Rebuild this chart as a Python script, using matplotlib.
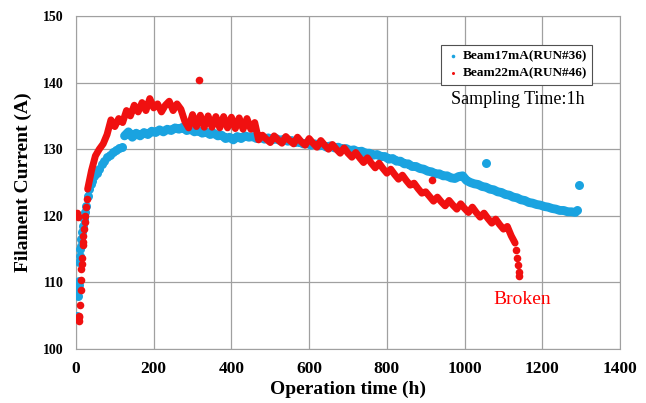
import numpy as np
import matplotlib
matplotlib.use('Agg')
import matplotlib.pyplot as plt

plt.rcParams['font.family'] = ['Liberation Serif', 'DejaVu Serif']

# Beam17mA (RUN#36) - blue series
blue_early_h = [3, 5, 6, 7, 8, 9, 10, 11, 12, 14, 16, 18, 20, 23, 26, 30, 34, 38, 42, 47,
                53, 60, 66, 72, 80, 88, 96, 104, 112, 118]
blue_early_i = [105.0, 108.0, 109.0, 110.2, 109.6, 113.0, 114.0, 115.0, 115.5, 116.5,
                117.5, 118.5, 119.5, 120.5, 121.5, 123.0, 124.0, 124.8, 125.3, 126.0,
                126.5, 127.0, 127.8, 128.2, 128.8, 129.2, 129.6, 129.9, 130.2, 130.4]
blue_start, blue_step = 125, 10
blue_main_i = [132.0, 132.6, 131.8, 132.4, 132.0, 132.5, 132.2, 132.7, 132.5, 132.9,
               132.6, 133.0, 132.8, 133.2, 133.0, 133.3, 132.8, 133.0, 132.6, 132.8,
               132.4, 132.6, 132.2, 132.4, 132.0, 132.1, 131.6, 131.8, 131.4, 131.9,
               131.6, 132.0, 131.8, 131.9, 131.6, 131.8, 131.5, 131.7, 131.4, 131.6,
               131.3, 131.5, 131.2, 131.3, 131.0, 131.1, 130.8, 130.9, 130.6, 130.8,
               130.5, 130.6, 130.3, 130.5, 130.2, 130.3, 130.0, 130.1, 129.8, 129.9,
               129.6, 129.7, 129.4, 129.4, 129.1, 129.2, 128.9, 128.9, 128.5, 128.6,
               128.2, 128.2, 127.8, 127.8, 127.4, 127.4, 127.1, 127.0, 126.7, 126.6,
               126.3, 126.3, 126.0, 126.0, 125.7, 125.6, 125.9, 126.0, 125.3, 125.0,
               124.8, 124.7, 124.4, 124.3, 124.0, 123.9, 123.6, 123.5, 123.2, 123.1,
               122.8, 122.7, 122.4, 122.3, 122.0, 121.9, 121.7, 121.6, 121.4, 121.3,
               121.1, 121.0, 120.8, 120.8, 120.6, 120.6, 120.5]
blue_extra_h = [1290, 1055, 1294]
blue_extra_i = [120.9, 127.9, 124.6]

# Beam22mA (RUN#46) - red series
red_early_h = [3, 4, 5, 6, 7, 8, 9, 10, 12, 13, 14, 15, 16, 17, 18, 19, 20, 22, 24, 26, 28]
red_early_i = [120.4, 119.8, 120.0, 104.5, 104.2, 104.8, 105.0, 106.6, 108.9, 110.4,
               112.0, 112.8, 113.6, 115.6, 116.0, 117.0, 118.0, 119.0, 120.0, 121.3, 122.5]
red_start, red_step = 30, 10
red_main_i = [124.0, 126.8, 129.0, 130.0, 130.8, 132.2, 134.4, 133.4, 134.6, 134.0,
              135.8, 135.0, 136.6, 135.6, 137.0, 135.8, 137.6, 136.2, 136.8, 135.6,
              136.6, 137.2, 135.8, 136.8, 136.0, 134.2, 133.2, 135.2, 133.4, 135.1,
              133.3, 135.0, 133.3, 134.9, 133.2, 134.9, 133.2, 134.8, 133.1, 134.7,
              133.0, 134.6, 133.0, 134.0, 131.4, 132.1, 131.5, 131.0, 132.0, 131.4,
              130.9, 131.9, 131.3, 130.8, 131.8, 131.1, 130.6, 131.6, 130.9, 130.3,
              131.3, 130.6, 130.0, 130.7, 130.0, 129.4, 130.2, 129.4, 128.8, 129.5,
              128.7, 128.0, 128.7, 127.9, 127.2, 127.9, 127.1, 126.4, 127.0, 126.2,
              125.5, 126.1, 125.3, 124.6, 124.9, 124.1, 123.4, 123.6, 122.9, 122.2,
              122.8, 122.1, 121.5, 122.3, 121.6, 121.0, 121.8, 121.1, 120.5, 121.3,
              120.5, 119.8, 120.4, 119.6, 118.9, 119.5, 118.7, 118.0, 118.4, 117.0,
              115.9]
red_extra_h = [1133, 1135, 1137, 1139, 1141, 316, 916]
red_extra_i = [114.9, 113.7, 112.6, 111.6, 111.0, 140.4, 125.4]

blue_main_h = blue_start + blue_step * np.arange(len(blue_main_i))
red_main_h = red_start + red_step * np.arange(len(red_main_i))

fig = plt.figure(figsize=(6.46, 4.03), dpi=100)
ax = fig.add_axes([0.1176, 0.134, 0.8422, 0.8263])

blue_c = '#1AA3E0'
red_c = '#F01010'

# dense hourly samples -> draw main runs as thick bands of dots
ax.plot(blue_main_h, blue_main_i, color=blue_c, lw=6.4, solid_joinstyle='round',
        solid_capstyle='round', zorder=3)
ax.scatter(blue_early_h + blue_extra_h, blue_early_i + blue_extra_i, s=42, color=blue_c,
           label='Beam17mA(RUN#36)', zorder=3, linewidths=0)
ax.plot(red_main_h, red_main_i, color=red_c, lw=5.0, solid_joinstyle='round',
        solid_capstyle='round', zorder=4)
ax.scatter(red_early_h + red_extra_h, red_early_i + red_extra_i, s=30, color=red_c,
           label='Beam22mA(RUN#46)', zorder=4, linewidths=0)

ax.set_xlim(0, 1400)
ax.set_ylim(100, 150)
ax.set_xticks([0, 200, 400, 600, 800, 1000, 1200, 1400])
ax.set_yticks([100, 110, 120, 130, 140, 150])
ax.grid(True, color='#a0a0a0', linewidth=0.9)
ax.set_axisbelow(True)
for sp in ax.spines.values():
    sp.set_color('#a0a0a0')

ax.tick_params(axis='x', length=0, pad=9, labelsize=12.5)
ax.tick_params(axis='y', length=0, pad=9, labelsize=10)
for lab in ax.get_xticklabels() + ax.get_yticklabels():
    lab.set_fontweight('bold')

ax.set_xlabel('Operation time (h)', fontsize=14, fontweight='bold', labelpad=2)
ax.set_ylabel('Filament Current (A)', fontsize=14, fontweight='bold', labelpad=8)

leg = ax.legend(loc='upper right', bbox_to_anchor=(0.961, 0.934), fancybox=False,
                framealpha=1, edgecolor='#505050', markerscale=0.4, handletextpad=0.2,
                borderpad=0.4, labelspacing=0.4, handlelength=1.0,
                prop={'weight': 'bold', 'size': 9.5})
leg.get_frame().set_linewidth(0.8)

ax.text(1137, 137.4, 'Sampling Time:1h', fontsize=13, ha='center', va='center')
ax.text(1148, 107.5, 'Broken', fontsize=14, color='#FF0000', ha='center', va='center')

fig.savefig('out.png', dpi=100)
